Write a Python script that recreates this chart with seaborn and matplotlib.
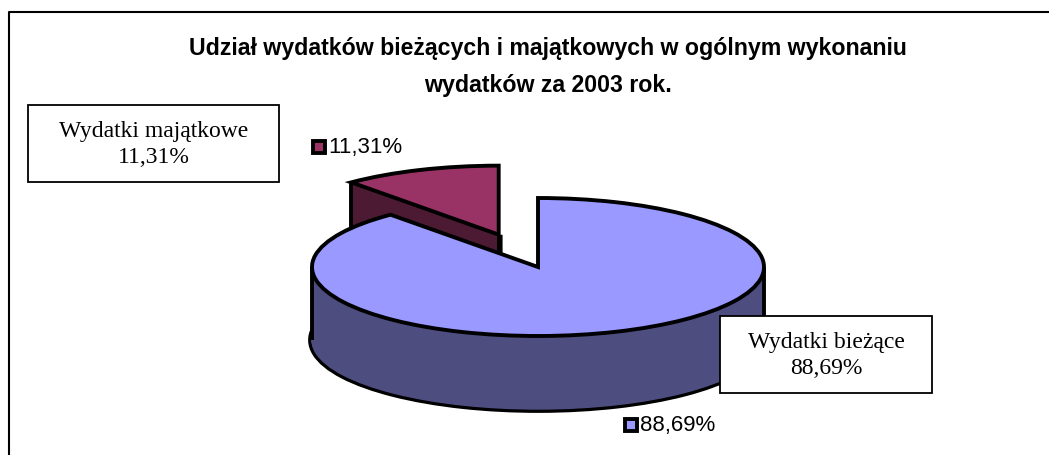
import numpy as np
import matplotlib
matplotlib.use('Agg')
import matplotlib.pyplot as plt
import seaborn as sns
from matplotlib.patches import Rectangle
from matplotlib.lines import Line2D

# data
categories = ['Wydatki majątkowe', 'Wydatki bieżące']
shares = [11.31, 88.69]
top_colors = ['#993366', '#9999FF']
side_colors = ['#4D1A33', '#4D4D80']
explode = [0.5, 0.0]
title = 'Udział wydatków bieżących i majątkowych w ogólnym wykonaniu\nwydatków za 2003 rok.'

sns.set_theme(style='white')
plt.rcParams['font.family'] = ['Liberation Sans', 'DejaVu Sans']
plt.rcParams['text.color'] = 'black'

W, H = 1049, 455
fig = plt.figure(figsize=(W / 100, H / 100), dpi=100)
ax = fig.add_axes([0, 0, 1, 1])


def fx(px):
    return px / W


def fy(py):
    return 1 - py / H


def pct(v):
    return f'{v:.2f}'.replace('.', ',') + '%'


# pie placement in pixels (centre, radii, thickness)
cx, cy, rx, ry, depth_px = 538, 267, 226, 69, 73
depth = depth_px / ry
lw = 2.8

# side walls: outlined bottom, then stacked copies
ax.pie(shares, colors=side_colors, explode=explode, startangle=90, center=(0, -depth),
       wedgeprops=dict(edgecolor='black', linewidth=2 * lw, zorder=1))
for d in np.linspace(depth, 0, 80):
    wedges, _ = ax.pie(shares, colors=side_colors, explode=explode, startangle=90, center=(0, -d),
                       wedgeprops=dict(linewidth=1, zorder=1))
    for w in wedges:
        w.set_edgecolor(w.get_facecolor())

# silhouette edges of the walls
bounds = 90 + np.cumsum([0] + shares) / sum(shares) * 360
mid = np.deg2rad((bounds[0] + bounds[1]) / 2)
ex, ey = explode[0] * np.cos(mid), explode[0] * np.sin(mid)
a1 = np.deg2rad(bounds[1])
ax.vlines([-1, 1], -depth, 0, colors='black', lw=lw, zorder=2)
ax.vlines([ex + np.cos(a1)], ey + np.sin(a1) - depth, ey + np.sin(a1), colors='black', lw=lw, zorder=2)
ax.vlines([ex], ey - depth, ey, colors='black', lw=lw, zorder=2)

# top faces
ax.pie(shares, colors=top_colors, explode=explode, startangle=90,
       wedgeprops=dict(edgecolor='black', linewidth=lw, zorder=3))

ax.set_aspect('auto')
ax.set_xlim(-cx / rx, (W - cx) / rx)
ax.set_ylim(-(H - cy) / ry, cy / ry)
ax.axis('off')

# title
fig.text(fx(548), fy(67), title, ha='center', va='center', fontsize=16.7,
         fontweight='bold', linespacing=1.75)

# category boxes
boxes = [(28, 105, 279, 182), (720, 316, 932, 393)]
for (x0, y0, x1, y1), cat, v in zip(boxes, categories, shares):
    fig.add_artist(Rectangle((fx(x0), fy(y1)), (x1 - x0) / W, (y1 - y0) / H,
                             transform=fig.transFigure, fc='white', ec='black', lw=1.3))
    fig.text(fx((x0 + x1) / 2), fy((y0 + y1) / 2 + 1), f'{cat}\n{pct(v)}', ha='center', va='center',
             fontsize=17, family=['Liberation Serif', 'DejaVu Serif'], linespacing=1.35)

# value labels with keys
keys = [(319, 147), (631, 425)]
for (kx, ky), col, v in zip(keys, top_colors, shares):
    fig.add_artist(Line2D([fx(kx)], [fy(ky)], marker='s', ms=8.5, mfc=col, mec='black',
                          mew=2.8, transform=fig.transFigure))
    fig.text(fx(kx + 9), fy(ky), pct(v), ha='left', va='center', fontsize=16)

# chart border (left and top visible)
fig.add_artist(Line2D([fx(9), fx(9), fx(W)], [fy(H), fy(12), fy(12)], color='black',
                      lw=1.5, transform=fig.transFigure))

fig.savefig('out.png', dpi=100)
